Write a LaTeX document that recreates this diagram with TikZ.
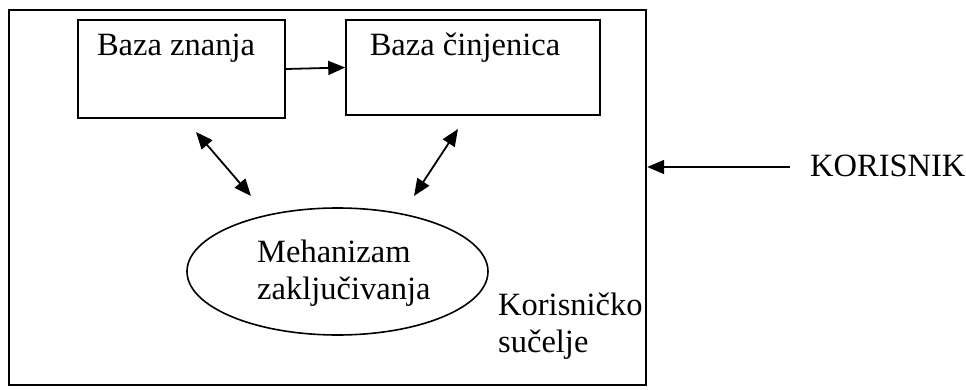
\documentclass[tikz,border=0pt]{standalone}
\usepackage{fontspec}
\setmainfont{Liberation Serif}
\usetikzlibrary{arrows.meta,shapes.geometric}
\begin{document}
\begin{tikzpicture}[x=1pt,y=-1pt,
  txt/.style={font=\fontsize{32.5}{37}\selectfont, inner sep=0pt, align=left},
  boxnode/.style={draw, line width=1.6pt, minimum width=#1, inner sep=0pt},
  conn/.style={line width=1.8pt, -{Triangle[length=17pt,width=14pt]}},
  dconn/.style={line width=1.8pt, {Triangle[length=17pt,width=14pt]}-{Triangle[length=17pt,width=14pt]}}]
\useasboundingbox (0,0) rectangle (966,390);
% outer user interface box
\node[draw, line width=2.4pt, minimum width=637pt, minimum height=375pt, inner sep=0pt] (ui) at (327.5,197.5) {};
% knowledge base and fact base
\node[boxnode=207pt, minimum height=98pt] (b1) at (181.5,69) {};
\node[boxnode=254pt, minimum height=95pt] (b2) at (473,67.5) {};
\node[txt] (b1t) at (176,48) {Baza znanja};
\node[txt] (b2t) at (465,48) {Baza činjenica};
\draw[conn] (b1.east) -- (b2.west);
% inference engine
\node[draw, ellipse, line width=1.6pt, minimum width=301pt, minimum height=127pt, inner sep=0pt] (mz) at (337.5,271.5) {};
\node[txt, anchor=west] (mzt) at (257,273) {Mehanizam\\zaključivanja};
% double arrows
\coordinate (l1) at (196,132);
\coordinate (l2) at (251,196);
\coordinate (r1) at (458,129);
\coordinate (r2) at (414,196);
\draw[dconn] (l1) -- (l2);
\draw[dconn] (r1) -- (r2);
% label of the interface
\node[txt, anchor=west] (uit) at (498,326) {Korisničko\\sučelje};
% user
\node[txt, anchor=west] (kor) at (810,166) {KORISNIK};
\coordinate (ks) at (790,167);
\draw[conn] (ks) -- (ui.east |- ks);
\end{tikzpicture}
\end{document}
